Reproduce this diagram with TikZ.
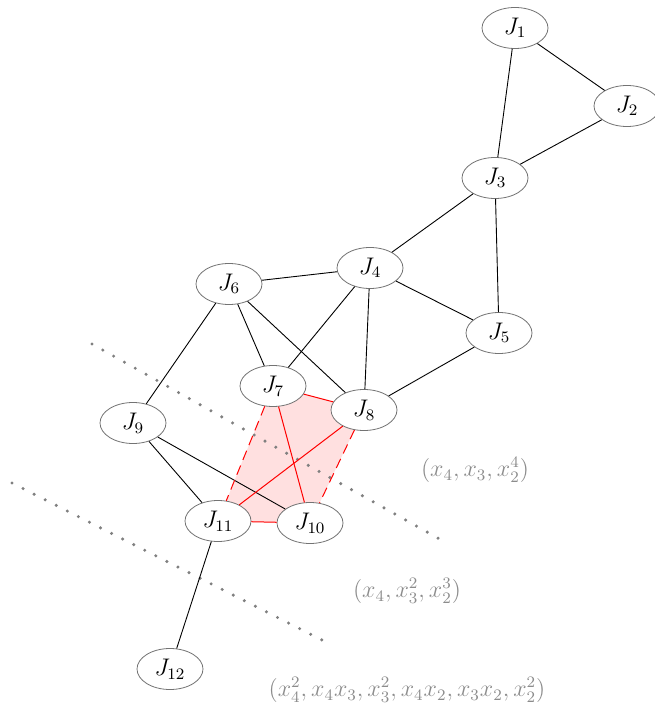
\documentclass[tikz,border=0pt]{standalone}
\usetikzlibrary{backgrounds,shapes.geometric}
\begin{document}
\begin{tikzpicture}[x=0.5pt,y=-0.5pt,
  jnode/.style={ellipse, draw=black!55, line width=0.4pt, fill=white, minimum width=33pt, minimum height=20.5pt, inner sep=0pt, font=\fontsize{12}{14}\selectfont},
  edge/.style={black, line width=0.45pt},
  redge/.style={red, line width=0.5pt},
  sep/.style={black!50, line width=1.7pt, line cap=round, dash pattern=on 0pt off 6.2pt},
  lab/.style={text=black!45, font=\fontsize{12}{14}\selectfont, inner sep=0pt}]
\useasboundingbox (0,0) rectangle (654,710);
\node[jnode] (J1) at (515,28) {$J_1$};
\node[jnode] (J2) at (627,106) {$J_2$};
\node[jnode] (J3) at (495,178) {$J_3$};
\node[jnode] (J4) at (370,268) {$J_4$};
\node[jnode] (J5) at (499,333) {$J_5$};
\node[jnode] (J6) at (229,284) {$J_6$};
\node[jnode] (J7) at (273,386) {$J_7$};
\node[jnode] (J8) at (364,410) {$J_8$};
\node[jnode] (J9) at (133,423) {$J_9$};
\node[jnode] (J10) at (310,523) {$J_{10}$};
\node[jnode] (J11) at (218,521) {$J_{11}$};
\node[jnode] (J12) at (170,669) {$J_{12}$};
\begin{scope}[on background layer]
  \fill[red!12] (J7.center) -- (J8.center) -- (J10.center) -- (J11.center) -- cycle;
  \coordinate (s1a) at (92,344); \coordinate (s1b) at (443,541);
  \coordinate (s2a) at (12,483); \coordinate (s2b) at (322,640);
  \draw[sep] (s1a) -- (s1b);
  \draw[sep] (s2a) -- (s2b);
\end{scope}
\draw[edge] (J1) -- (J2);
\draw[edge] (J1) -- (J3);
\draw[edge] (J2) -- (J3);
\draw[edge] (J3) -- (J4);
\draw[edge] (J3) -- (J5);
\draw[edge] (J4) -- (J5);
\draw[edge] (J4) -- (J6);
\draw[edge] (J4) -- (J7);
\draw[edge] (J4) -- (J8);
\draw[edge] (J5) -- (J8);
\draw[edge] (J6) -- (J7);
\draw[edge] (J6) -- (J8);
\draw[edge] (J6) -- (J9);
\draw[edge] (J9) -- (J11);
\draw[edge] (J9) -- (J10);
\draw[edge] (J11) -- (J12);
\draw[redge] (J7) -- (J8);
\draw[redge] (J7) -- (J10);
\draw[redge] (J8) -- (J11);
\draw[redge] (J11) -- (J10);
\draw[redge, dash pattern=on 5pt off 3pt] (J7) -- (J11);
\draw[redge, dash pattern=on 5pt off 3pt] (J8) -- (J10);
\node[lab] (L1) at (475,470) {$(x_4,x_3,x_2^4)$};
\node[lab] (L2) at (407,591) {$(x_4,x_3^2,x_2^3)$};
\node[lab] (L3) at (407,690) {$(x_4^2,x_4x_3,x_3^2,x_4x_2,x_3x_2,x_2^2)$};
\end{tikzpicture}
\end{document}
